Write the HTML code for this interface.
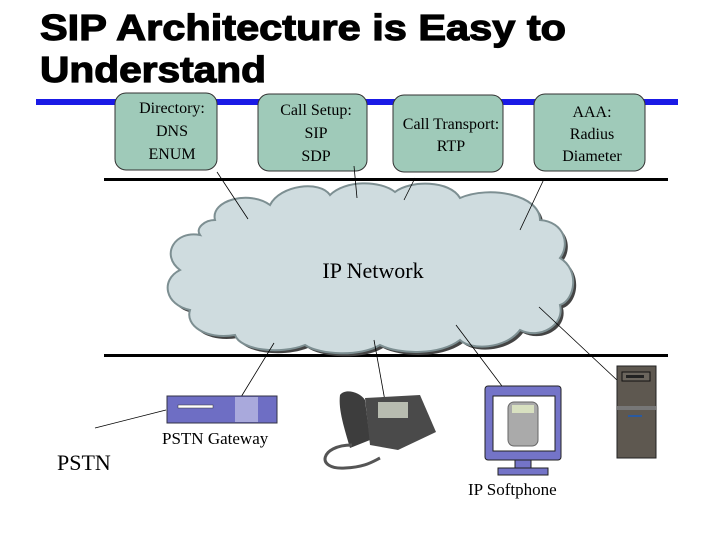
<!DOCTYPE html>
<html><head><meta charset="utf-8"><style>
html,body{margin:0;padding:0;background:#fff;}
svg{display:block;}
</style></head><body>
<svg width="720" height="540" viewBox="0 0 720 540" xmlns="http://www.w3.org/2000/svg">
<g font-family="Liberation Sans, sans-serif" font-weight="bold" font-size="36" fill="#000" stroke="#000" stroke-width="1.2">
<text x="40" y="40" textLength="526" lengthAdjust="spacingAndGlyphs">SIP Architecture is Easy to</text>
<text x="40" y="82" textLength="226" lengthAdjust="spacingAndGlyphs">Understand</text>
</g>
<rect x="36" y="99" width="642" height="6" fill="#1a1ae6"/>
<g fill="#9fcab9" stroke="#333" stroke-width="1">
<rect x="115" y="93" width="102" height="77" rx="11"/>
<rect x="258" y="94" width="109" height="77" rx="11"/>
<rect x="393" y="95" width="110" height="77" rx="11"/>
<rect x="534" y="94" width="111" height="77" rx="11"/>
</g>
<g font-family="Liberation Serif, serif" font-size="16" fill="#000" text-anchor="middle">
<text x="172" y="113">Directory:</text><text x="172" y="136">DNS</text><text x="172" y="159">ENUM</text>
<text x="316" y="115">Call Setup:</text><text x="316" y="138">SIP</text><text x="316" y="161">SDP</text>
<text x="451" y="129">Call Transport:</text><text x="451" y="151">RTP</text>
<text x="592" y="117">AAA:</text><text x="592" y="139">Radius</text><text x="592" y="161">Diameter</text>
</g>
<rect x="104" y="178" width="564" height="3" fill="#000"/>
<rect x="104" y="354" width="564" height="3" fill="#000"/>
<g transform="translate(3,3)" fill="#444">
<path d="M215,220 C210,200 250,190 270,205 C280,185 320,180 330,195 C345,180 380,180 395,192 C410,180 450,180 460,198 C490,185 540,195 540,220 C565,222 570,245 560,258 C580,270 575,300 560,305 C565,325 540,340 520,330 C505,350 470,350 460,340 C440,355 400,355 380,345 C360,357 320,355 305,345 C280,355 240,350 235,335 C205,340 185,325 190,310 C165,305 160,280 180,270 C160,255 175,230 200,235 C195,228 205,220 215,220 Z"/>
</g>
<path d="M215,220 C210,200 250,190 270,205 C280,185 320,180 330,195 C345,180 380,180 395,192 C410,180 450,180 460,198 C490,185 540,195 540,220 C565,222 570,245 560,258 C580,270 575,300 560,305 C565,325 540,340 520,330 C505,350 470,350 460,340 C440,355 400,355 380,345 C360,357 320,355 305,345 C280,355 240,350 235,335 C205,340 185,325 190,310 C165,305 160,280 180,270 C160,255 175,230 200,235 C195,228 205,220 215,220 Z" fill="#cfdcdf" stroke="#7d8f92" stroke-width="2"/>
<text x="373" y="278" font-family="Liberation Serif, serif" font-size="22" text-anchor="middle">IP Network</text>
<g stroke="#000" stroke-width="0.8">
<line x1="217" y1="172" x2="248" y2="219"/>
<line x1="354" y1="166" x2="357" y2="198"/>
<line x1="415" y1="178" x2="404" y2="200"/>
<line x1="544" y1="179" x2="520" y2="230"/>
<line x1="274" y1="343" x2="241" y2="397"/>
<line x1="374" y1="340" x2="385" y2="401"/>
<line x1="456" y1="325" x2="520" y2="410"/>
<line x1="539" y1="307" x2="618" y2="381"/>
<line x1="95" y1="428" x2="166" y2="410"/>
</g>
<rect x="167" y="396" width="110" height="27" fill="#6e6ec4" stroke="#334" stroke-width="1"/>
<rect x="235" y="397" width="23" height="25" fill="#a9a9dc"/>
<rect x="178" y="405" width="35" height="3" fill="#fff" stroke="#333" stroke-width="0.5"/>
<text x="162" y="444" font-family="Liberation Serif, serif" font-size="17">PSTN Gateway</text>
<text x="57" y="470" font-family="Liberation Serif, serif" font-size="22">PSTN</text>
<path d="M340,395 C345,388 360,392 365,400 L370,440 L350,448 C345,430 338,410 340,395 Z" fill="#3d3d3d"/>
<path d="M365,398 L420,395 L436,432 L398,450 L370,445 Z" fill="#4a4a4a"/>
<rect x="378" y="402" width="30" height="16" fill="#b8bcb0"/>
<path d="M352,445 C320,445 315,470 345,468 C365,467 372,462 380,458" fill="none" stroke="#555" stroke-width="3"/>
<rect x="485" y="386" width="76" height="74" rx="3" fill="#7474c8" stroke="#222"/>
<rect x="493" y="396" width="62" height="55" fill="#fff" stroke="#222"/>
<rect x="508" y="402" width="30" height="44" rx="6" fill="#aaa" stroke="#666"/>
<rect x="512" y="405" width="22" height="8" fill="#d8e0c0"/>
<rect x="515" y="460" width="16" height="10" fill="#7474c8" stroke="#222"/>
<rect x="498" y="468" width="50" height="7" fill="#7474c8" stroke="#222"/>
<text x="468" y="495" font-family="Liberation Serif, serif" font-size="17">IP Softphone</text>
<rect x="617" y="366" width="39" height="92" fill="#5e5850" stroke="#222"/>
<rect x="622" y="372" width="28" height="9" fill="#6b655d" stroke="#111"/>
<rect x="626" y="375" width="18" height="3" fill="#222"/>
<rect x="617" y="406" width="39" height="4" fill="#777"/>
<rect x="628" y="415" width="14" height="2" fill="#2a5aa0"/>
</svg>
</body></html>
